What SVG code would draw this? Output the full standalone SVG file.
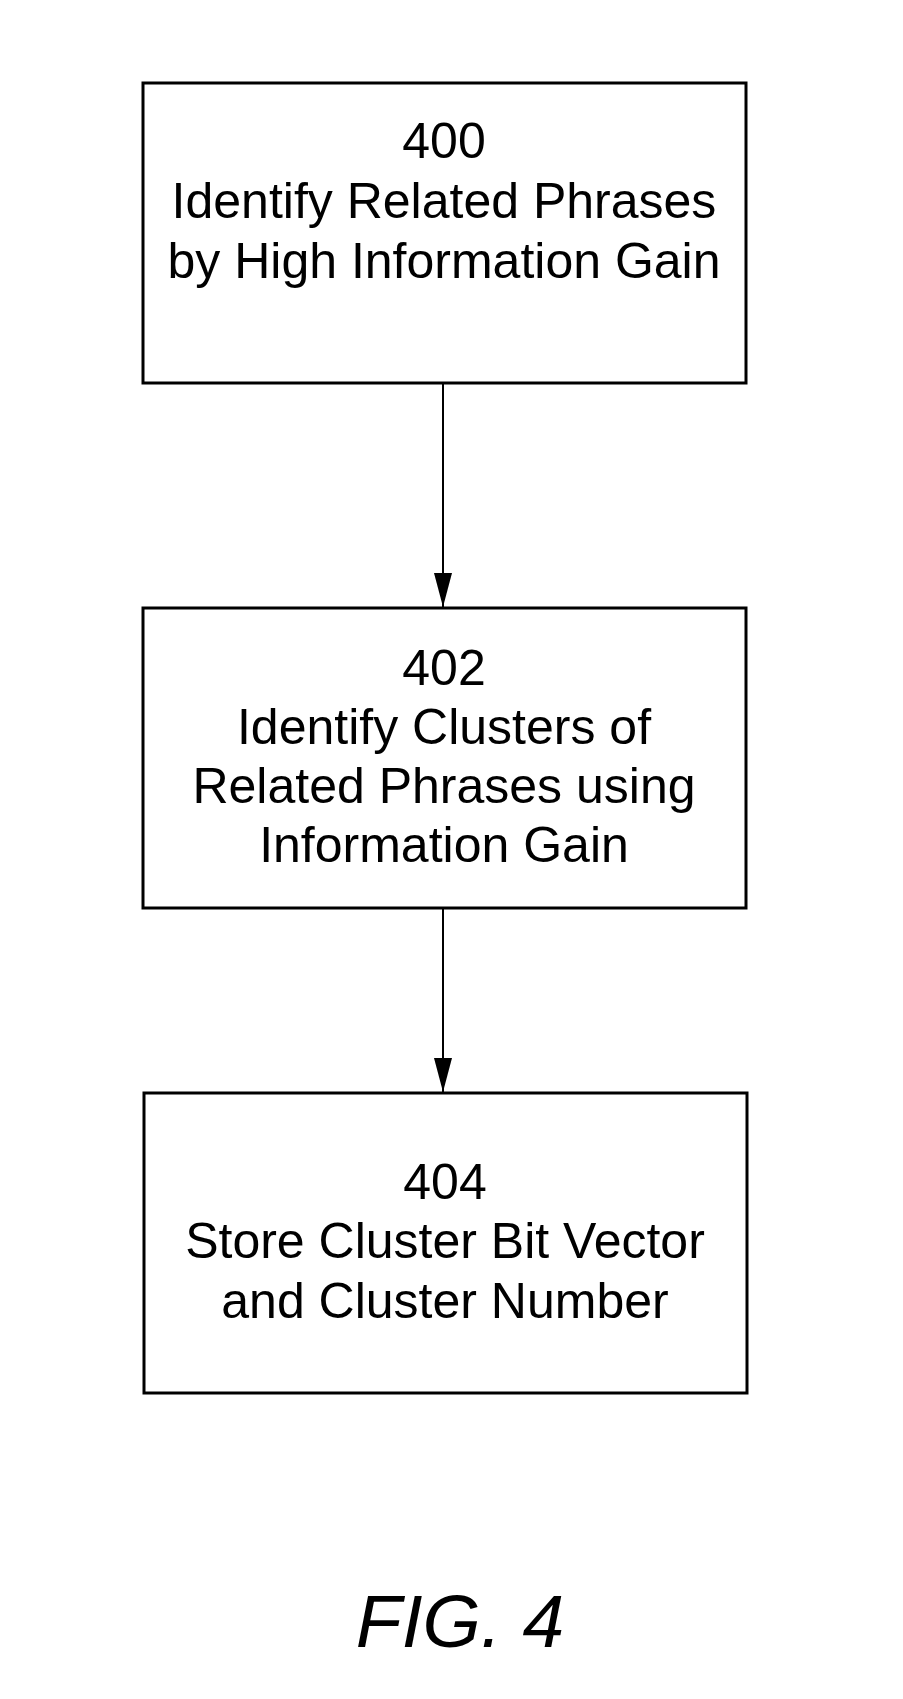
<svg xmlns="http://www.w3.org/2000/svg" width="903" height="1699" viewBox="0 0 903 1699">
<style>
.box{fill:#fff;stroke:#000;stroke-width:3}
.t{font-family:"Liberation Sans",Arial,sans-serif;font-size:50px;text-anchor:middle;fill:#000}
.fig{font-family:"Liberation Sans",Arial,sans-serif;font-size:75px;font-style:italic;text-anchor:middle;fill:#000}
.conn{stroke:#000;stroke-width:2;fill:none}
</style>
<defs>
<marker id="arr" markerUnits="userSpaceOnUse" markerWidth="34" markerHeight="18" refX="34" refY="9" orient="auto" viewBox="0 0 34 18">
<path d="M0,0 L34,9 L0,18 Z" fill="#000"/>
</marker>
</defs>
<rect width="903" height="1699" fill="#fff"/>
<g id="connectors">
<line class="conn" x1="443" y1="383" x2="443" y2="607" marker-end="url(#arr)"/>
<line class="conn" x1="443" y1="908" x2="443" y2="1092" marker-end="url(#arr)"/>
</g>
<g id="n400">
<rect class="box" x="143" y="83" width="603" height="300"/>
<text class="t" x="444" y="158">400</text>
<text class="t" x="444" y="218">Identify Related Phrases</text>
<text class="t" x="444" y="278">by High Information Gain</text>
</g>
<g id="n402">
<rect class="box" x="143" y="608" width="603" height="300"/>
<text class="t" x="444" y="685">402</text>
<text class="t" x="444" y="744">Identify Clusters of</text>
<text class="t" x="444" y="803">Related Phrases using</text>
<text class="t" x="444" y="862">Information Gain</text>
</g>
<g id="n404">
<rect class="box" x="144" y="1093" width="603" height="300"/>
<text class="t" x="445" y="1199">404</text>
<text class="t" x="445" y="1258">Store Cluster Bit Vector</text>
<text class="t" x="445" y="1318">and Cluster Number</text>
</g>
<g id="caption">
<text class="fig" x="460" y="1647">FIG. 4</text>
</g>
</svg>
